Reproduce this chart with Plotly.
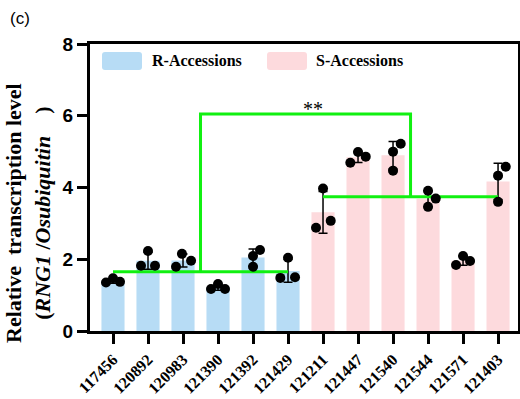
import numpy as np
import plotly.graph_objects as go

# ---------------- data ----------------
accessions = ["117456", "120892", "120983", "121390", "121392", "121429",
              "121211", "121447", "121540", "121544", "121571", "121403"]
groups = ["R", "R", "R", "R", "R", "R", "S", "S", "S", "S", "S", "S"]
rep_a = [1.35, 1.82, 1.79, 1.17, 1.79, 1.48, 2.88, 4.69, 4.47, 3.46, 1.84, 3.60]
rep_b = [1.47, 2.23, 2.15, 1.31, 2.09, 2.04, 3.97, 4.99, 5.00, 3.91, 2.09, 4.33]
rep_c = [1.37, 1.82, 1.96, 1.17, 2.26, 1.50, 3.07, 4.86, 5.22, 3.69, 1.95, 4.58]
y_ticks = [0, 2, 4, 6, 8]
group_level_R = 1.65
group_level_S = 3.74
bracket_top = 6.05
sig_label = "**"

# ---------------- style ----------------
jit_a = [-0.2, -0.2, -0.2, -0.2, 0.0, -0.22, -0.2, -0.22, 0.0, 0.0, -0.2, 0.0]
jit_b = [0.0, 0.0, -0.03, 0.0, 0.0, 0.0, 0.0, 0.0, 0.0, 0.0, 0.0, 0.0]
jit_c = [0.2, 0.2, 0.23, 0.2, 0.2, 0.2, 0.22, 0.22, 0.22, 0.22, 0.2, 0.22]
col = {"R": "#b7dcf5", "S": "#fddadd"}
green = "#11f011"
serif = "Liberation Serif, Times New Roman, serif"
sans = "Liberation Sans, Arial, sans-serif"

W, H = 520, 399
L, R, T, B = 90, 2, 44, 68
pw, ph = W - L - R, H - T - B


def px(x):
    return (x - L) / pw


def py(y):
    return (H - B - y) / ph


reps = np.array([rep_a, rep_b, rep_c])
means = reps.mean(axis=0)
sds = reps.std(axis=0, ddof=1)
xi = np.arange(len(accessions))

fig = go.Figure()
fig.add_trace(go.Bar(
    x=xi, y=means, width=0.66,
    marker=dict(color=[col[g] for g in groups], line=dict(width=0)),
    error_y=dict(type="data", array=sds, visible=True, color="black",
                 thickness=1.5, width=4.5),
    showlegend=False,
))

# green bracket
iR = [i for i, g in enumerate(groups) if g == "R"]
iS = [i for i, g in enumerate(groups) if g == "S"]
xR_mid = iR[len(iR) // 2 - 1] + 0.5
xS_mid = iS[len(iS) // 2 - 1] + 0.5
fig.add_trace(go.Scatter(x=[iR[0], iR[-1]], y=[group_level_R] * 2, mode="lines",
                         line=dict(color=green, width=3), showlegend=False))
fig.add_trace(go.Scatter(x=[iS[0], iS[-1]], y=[group_level_S] * 2, mode="lines",
                         line=dict(color=green, width=3), showlegend=False))
fig.add_trace(go.Scatter(x=[xR_mid, xR_mid, xS_mid, xS_mid],
                         y=[group_level_R, bracket_top, bracket_top, group_level_S],
                         mode="lines", line=dict(color=green, width=3),
                         showlegend=False))

# individual points
for jit, rep in ((jit_a, rep_a), (jit_b, rep_b), (jit_c, rep_c)):
    fig.add_trace(go.Scatter(x=xi + np.array(jit), y=rep, mode="markers",
                             marker=dict(color="black", size=10),
                             showlegend=False))

fig.add_annotation(x=(xR_mid + xS_mid) / 2 + 0.2, y=bracket_top + 0.15, text=sig_label,
                   showarrow=False, font=dict(family=serif, size=20, color="black"))


# legend (manual)
def rrect(x0, y0, x1, y1, r=3):
    a, b, c, d = px(x0), py(y1), px(x1), py(y0)
    rx, ry = r / pw, r / ph
    return (f"M{a+rx},{b} L{c-rx},{b} Q{c},{b} {c},{b+ry} L{c},{d-ry} Q{c},{d} {c-rx},{d} "
            f"L{a+rx},{d} Q{a},{d} {a},{d-ry} L{a},{b+ry} Q{a},{b} {a+rx},{b} Z")


for (x0, tx, g, name) in ((102, 150, "R", "R-Accessions"), (267, 314, "S", "S-Accessions")):
    fig.add_shape(type="path", xref="paper", yref="paper", path=rrect(x0, 52, x0 + 40, 70),
                  fillcolor=col[g], line=dict(width=0))
    fig.add_annotation(xref="paper", yref="paper", x=px(tx), y=py(61), xanchor="left",
                       yanchor="middle", text=f"<b>{name}</b>", showarrow=False,
                       font=dict(family=serif, size=16, color="black"))

# y title
nb = "\u00a0"
fig.add_annotation(xref="paper", yref="paper", x=px(28), y=py(213), xanchor="center",
                   yanchor="middle", textangle=-90, showarrow=False,
                   text=f"<b>Relative{nb}{nb}transcription level<br>(<i>RNG1{nb}</i>/<i>Osubiquitin</i>{nb}{nb}{nb}{nb})</b>",
                   font=dict(family=serif, size=22, color="black"))

fig.add_annotation(xref="paper", yref="paper", x=px(8), y=py(18), xanchor="left",
                   yanchor="middle", text="(c)", showarrow=False,
                   font=dict(family=sans, size=17, color="black"))

fig.update_layout(
    width=W, height=H, margin=dict(l=L, r=R, t=T, b=B, autoexpand=False),
    plot_bgcolor="white", paper_bgcolor="white",
    xaxis=dict(range=[-0.657, 11.57], tickmode="array", tickvals=xi, ticktext=accessions,
               tickangle=-45, ticks="outside", ticklen=10, tickwidth=2.5, tickcolor="black",
               showline=True, linecolor="black", linewidth=3, mirror=True, showgrid=False,
               zeroline=False, automargin=False,
               tickfont=dict(family=serif, size=16, color="black", weight="bold")),
    yaxis=dict(range=[0, 8], tickvals=y_ticks, ticks="outside", ticklen=10, tickwidth=2.5,
               tickcolor="black", showline=True, linecolor="black", linewidth=3, mirror=True,
               showgrid=False, zeroline=False, automargin=False,
               tickfont=dict(family=sans, size=19, color="black", weight="bold")),
)

fig.write_html("out.html", config={"displayModeBar": False},
               post_script="document.body.style.margin='0px';document.body.style.overflow='hidden';")
